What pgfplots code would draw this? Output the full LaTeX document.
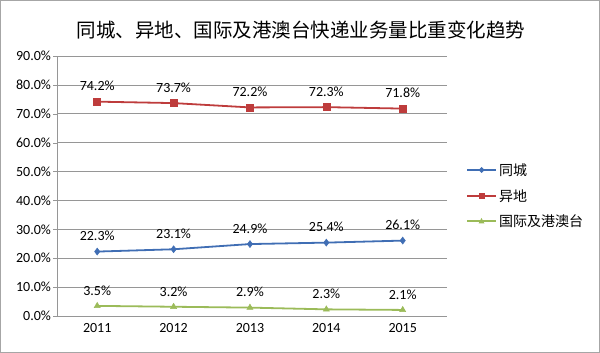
\documentclass[border=0pt]{standalone}
\usepackage{pgfplots}
\pgfplotsset{compat=1.18}
\usepackage{fontspec}
\setmainfont{Carlito}
\newfontfamily\cjk{Noto Sans CJK SC}
\definecolor{cblue}{RGB}{64,110,180}
\definecolor{cred}{RGB}{190,60,60}
\definecolor{cgreen}{RGB}{155,187,89}
\definecolor{cgrid}{RGB}{150,150,150}
\begin{document}
\begin{tikzpicture}[x=1pt,y=1pt]
\draw[color=gray!70,line width=1pt] (0.5,0.5) rectangle (599.5,352.5);
\node[font=\cjk\fontsize{19.5}{22}\selectfont] at (301,323) {同城、异地、国际及港澳台快递业务量比重变化趋势};
\begin{axis}[
  at={(57.5pt,37pt)}, anchor=south west,
  scale only axis, width=389.5pt, height=260pt,
  xmin=-0.52, xmax=4.58, ymin=0, ymax=90,
  xtick={0,1,2,3,4}, xticklabels={2011,2012,2013,2014,2015},
  ytick={0,10,...,90},
  yticklabel={\pgfmathprintnumber[fixed,fixed zerofill,precision=1]{\tick}\%},
  /pgf/number format/assume math mode=true,
  ticklabel style={font=\fontsize{14}{16}\selectfont},
  yticklabel style={xshift=1pt},
  ymajorgrids, grid style={cgrid,line width=0.6pt},
  axis x line*=bottom, axis y line*=left,
  x axis line style={draw=none},
  y axis line style={cgrid,line width=0.6pt},
  xtick style={draw=none},
  ytick style={cgrid}, major tick length=4pt,
  tick align=outside,
  every axis plot/.append style={line width=1.8pt},
  nodes near coords={\pgfmathprintnumber[fixed,fixed zerofill,precision=1]{\pgfplotspointmeta}\%},
  nodes near coords style={font=\fontsize{14}{16}\selectfont, text=black, anchor=south, yshift=7pt},
  clip=false,
]
\addplot[cblue, mark=diamond*, mark size=3.5pt, mark options={line width=0.5pt}] coordinates {(0,22.3) (1,23.1) (2,24.9) (3,25.4) (4,26.1)};
\addplot[cred, mark=square*, mark size=3.5pt, mark options={line width=0.5pt}] coordinates {(0,74.2) (1,73.7) (2,72.2) (3,72.3) (4,71.8)};
\addplot[cgreen, mark=triangle*, mark size=3.5pt, mark options={line width=0.5pt}] coordinates {(0,3.5) (1,3.2) (2,2.9) (3,2.3) (4,2.1)};
\end{axis}
% legend
\begin{scope}[font=\cjk\fontsize{14}{16}\selectfont]
\draw[cblue,line width=1.8pt] (467,183) -- (496,183);
\fill[cblue] (481.5,186) -- (484.5,183) -- (481.5,180) -- (478.5,183) -- cycle;
\node[anchor=west,inner sep=0pt] at (499,183) {同城};
\draw[cred,line width=1.8pt] (467,157) -- (496,157);
\fill[cred] (478.5,154) rectangle (484.5,160);
\node[anchor=west,inner sep=0pt] at (499,157) {异地};
\draw[cgreen,line width=1.8pt] (467,132) -- (496,132);
\fill[cgreen] (478.5,129.5) -- (484.5,129.5) -- (481.5,135) -- cycle;
\node[anchor=west,inner sep=0pt] at (499,132) {国际及港澳台};
\end{scope}
\end{tikzpicture}
\end{document}
